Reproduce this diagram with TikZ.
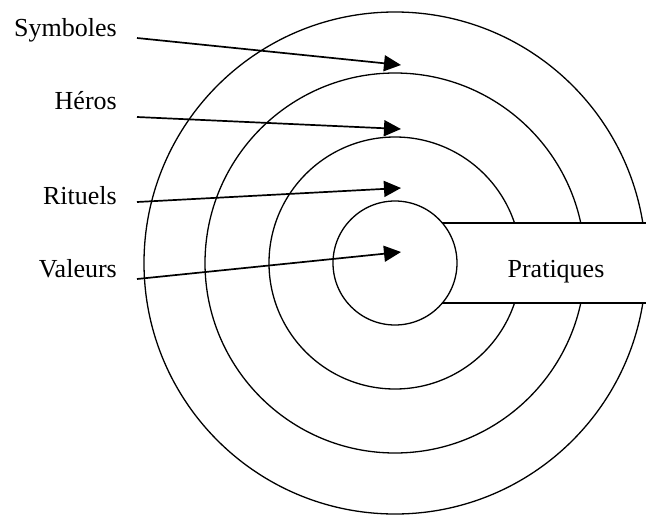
\documentclass[tikz,border=0pt]{standalone}
\usepackage{fontspec}
\setmainfont{Liberation Serif}
\usetikzlibrary{arrows.meta}
\begin{document}
\begin{tikzpicture}[x=1pt,y=-1pt,
  ring/.style={draw=black,line width=1.3pt},
  lbl/.style={font=\fontsize{26}{30}\selectfont,inner sep=0pt,anchor=base east},
  arr/.style={draw=black,line width=1.7pt,-{Triangle[length=17pt,width=16pt]}},
  boxline/.style={draw=black,line width=1.7pt}]
\useasboundingbox (0,0) rectangle (646,517);
\fill[white] (0,0) rectangle (646,517);
\coordinate (c) at (395,263);
% rings
\draw[ring] (c) circle[radius=251];
\draw[ring] (c) circle[radius=190];
\draw[ring] (c) circle[radius=126];
% Pratiques band
\fill[white] (395,223) rectangle (650,303);
\draw[ring,fill=white] (c) circle[radius=62];
\coordinate (bt) at (442.4,223);
\coordinate (bb) at (442.4,303);
\coordinate (et) at (650,223);
\coordinate (eb) at (650,303);
\draw[boxline] (bt) -- (et);
\draw[boxline] (bb) -- (eb);
\node[font=\fontsize{26}{30}\selectfont,inner sep=0pt,anchor=base] (prat) at (556,277) {Pratiques};
% labels
\node[lbl] (sym) at (117,36.7) {Symboles};
\node[lbl] (her) at (117,109) {Héros};
\node[lbl] (rit) at (117,204) {Rituels};
\node[lbl] (val) at (117,277) {Valeurs};
% arrows
\coordinate (s1) at (137,38);  \coordinate (t1) at (401,65);
\coordinate (s2) at (137,117); \coordinate (t2) at (401,129);
\coordinate (s3) at (137,202); \coordinate (t3) at (401,188);
\coordinate (s4) at (137,279); \coordinate (t4) at (401,252);
\draw[arr] (s1) -- (t1);
\draw[arr] (s2) -- (t2);
\draw[arr] (s3) -- (t3);
\draw[arr] (s4) -- (t4);
\end{tikzpicture}
\end{document}
